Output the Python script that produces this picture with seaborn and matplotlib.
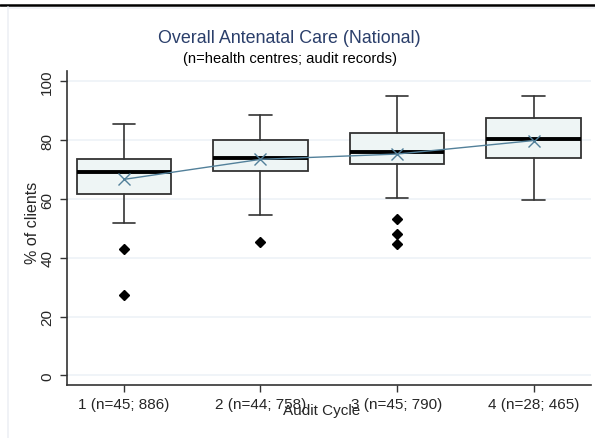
import numpy as np
import matplotlib
matplotlib.use('Agg')
import matplotlib.pyplot as plt
import matplotlib.lines as mlines
import seaborn as sns
import pandas as pd

# summary values (% of clients)
cycles = ['1 (n=45; 886)', '2 (n=44; 758)', '3 (n=45; 790)', '4 (n=28; 465)']
whisk_lo = [51.9, 54.7, 60.5, 59.6]
q1 = [61.8, 69.5, 71.8, 73.9]
median = [69.3, 73.8, 76.1, 80.5]
q3 = [73.7, 80.2, 82.5, 87.4]
whisk_hi = [85.6, 88.5, 95.2, 95.2]
outliers = [[43.1, 27.4], [45.4], [53.2, 48.2, 44.6], []]
means = [66.7, 73.5, 75.3, 79.9]

sns.set_style('white')
plt.rcParams['font.family'] = ['Liberation Sans', 'DejaVu Sans']

fig = plt.figure(figsize=(5.95, 4.39), dpi=100)
ax = fig.add_axes([0.112, 0.121, 0.881, 0.716])

stats = []
for i in range(len(cycles)):
    stats.append({'whislo': whisk_lo[i], 'q1': q1[i], 'med': median[i],
                  'q3': q3[i], 'whishi': whisk_hi[i], 'fliers': outliers[i],
                  'label': cycles[i]})

ax.bxp(stats, positions=range(len(cycles)), widths=0.69, capwidths=0.165,
       patch_artist=True, showfliers=True,
       boxprops=dict(facecolor='#eef5f5', edgecolor='#333333', linewidth=1.3),
       medianprops=dict(color='black', linewidth=2.8),
       whiskerprops=dict(color='#333333', linewidth=1.2),
       capprops=dict(color='#333333', linewidth=1.2),
       flierprops=dict(marker='D', markerfacecolor='black', markeredgecolor='black',
                       markersize=5))

mean_df = pd.DataFrame({'cycle': range(len(cycles)), 'mean': means})
sns.lineplot(data=mean_df, x='cycle', y='mean', ax=ax, color='#52809a',
             linewidth=1.0, marker='x', markersize=8, markeredgewidth=1.0,
             markeredgecolor='#52809a', zorder=5)

ax.set_xlim(-0.42, 3.42)
ax.set_ylim(-3.2, 103.7)
ax.set_xticks(range(len(cycles)))
ax.set_xticklabels(cycles, fontsize=11)
ax.set_yticks([0, 20, 40, 60, 80, 100])
ax.set_yticklabels(['0', '20', '40', '60', '80', '100'], rotation=90, va='center', fontsize=11)
ax.tick_params(axis='both', direction='out', length=5, width=1, color='#333333', bottom=True, left=True)
ax.tick_params(axis='y', pad=4)
ax.yaxis.grid(True, color='#eef2f7', linewidth=1.2)
ax.set_axisbelow(True)
for s in ['top', 'right']:
    ax.spines[s].set_visible(False)
for s in ['left', 'bottom']:
    ax.spines[s].set_color('#333333')
    ax.spines[s].set_linewidth(1.2)

ax.set_xlabel('Audit Cycle', fontsize=11)
ax.xaxis.set_label_coords(0.486, -0.058)
ax.set_ylabel('% of clients', fontsize=11.5)
ax.yaxis.set_label_coords(-0.05, 0.52)

fig.text(0.487, 0.913, 'Overall Antenatal Care (National)', ha='center', va='center',
         fontsize=12.9, color='#2b3f6b')
fig.text(0.487, 0.866, '(n=health centres; audit records)', ha='center', va='center',
         fontsize=10.6, color='black')

# page border lines
fig.add_artist(mlines.Line2D([0, 1], [1 - 6 / 439, 1 - 6 / 439], color='black', linewidth=1.8))
fig.add_artist(mlines.Line2D([8 / 595, 8 / 595], [0, 1 - 8 / 439], color='#edf0f5', linewidth=1.2))
fig.add_artist(mlines.Line2D([8 / 595, 1], [1 - 9 / 439, 1 - 9 / 439], color='#edf0f5', linewidth=1.2))

fig.savefig('out.png', dpi=100)
